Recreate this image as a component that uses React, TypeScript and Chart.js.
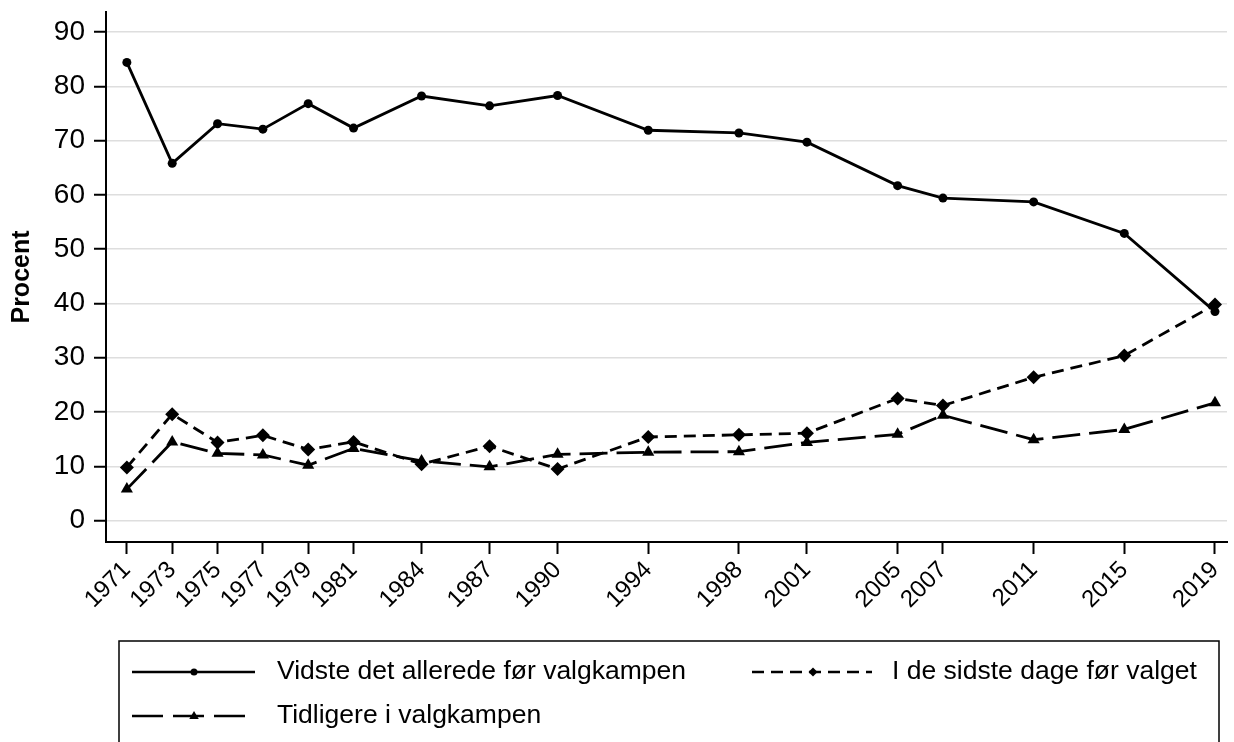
import React, { useEffect, useRef } from "react";
import { Chart, registerables } from "chart.js";

Chart.register(...registerables);

const years = [1971, 1973, 1975, 1977, 1979, 1981, 1984, 1987, 1990, 1994, 1998, 2001, 2005, 2007, 2011, 2015, 2019];
const yTicks = [0, 10, 20, 30, 40, 50, 60, 70, 80, 90];
const vidste = [84.4, 65.8, 73.1, 72.1, 76.8, 72.3, 78.2, 76.4, 78.3, 71.9, 71.4, 69.7, 61.7, 59.4, 58.7, 52.9, 38.5];
const sidsteDage = [9.8, 19.6, 14.4, 15.7, 13.1, 14.5, 10.4, 13.7, 9.5, 15.4, 15.8, 16.1, 22.5, 21.2, 26.4, 30.4, 39.8];
const tidligere = [5.8, 14.5, 12.4, 12.1, 10.2, 13.3, 11.0, 9.9, 12.2, 12.6, 12.7, 14.4, 15.9, 19.4, 14.9, 16.8, 21.7];
const seriesLabels = ["Vidste det allerede før valgkampen", "I de sidste dage før valget", "Tidligere i valgkampen"];
const yTitle = "Procent";

const FONT = "'Liberation Sans', Arial, Helvetica, sans-serif";

function drawMarker(ctx: CanvasRenderingContext2D, style: string, x: number, y: number, r: number) {
  ctx.save();
  ctx.fillStyle = "#000";
  ctx.setLineDash([]);
  ctx.beginPath();
  if (style === "circle") {
    ctx.arc(x, y, r, 0, Math.PI * 2);
  } else if (style === "rectRot") {
    ctx.moveTo(x, y - r);
    ctx.lineTo(x + r, y);
    ctx.lineTo(x, y + r);
    ctx.lineTo(x - r, y);
    ctx.closePath();
  } else {
    ctx.moveTo(x, y - r);
    ctx.lineTo(x + r * 0.95, y + r * 0.6);
    ctx.lineTo(x - r * 0.95, y + r * 0.6);
    ctx.closePath();
  }
  ctx.fill();
  ctx.restore();
}

const legendPlugin = {
  id: "customLegend",
  afterDraw(chart: any) {
    const ctx: CanvasRenderingContext2D = chart.ctx;
    ctx.save();
    ctx.strokeStyle = "#000";
    ctx.lineWidth = 1.5;
    ctx.setLineDash([]);
    ctx.strokeRect(119, 641, 1100, 140);
    const items = [
      { x0: 132, x1: 255, mx: 194, tx: 277, y: 672, dash: [] as number[], style: "circle", r: 3.5, label: seriesLabels[0] },
      { x0: 752, x1: 872, mx: 813, tx: 892, y: 672, dash: [12, 7], style: "rectRot", r: 4.5, label: seriesLabels[1] },
      { x0: 132, x1: 255, mx: 194, tx: 277, y: 716, dash: [31, 10], style: "triangle", r: 5, label: seriesLabels[2] },
    ];
    for (const it of items) {
      ctx.beginPath();
      ctx.setLineDash(it.dash);
      ctx.lineWidth = 2.5;
      ctx.moveTo(it.x0, it.y);
      ctx.lineTo(it.x1, it.y);
      ctx.stroke();
      drawMarker(ctx, it.style, it.mx, it.y, it.r);
      ctx.fillStyle = "#000";
      ctx.font = `26.5px ${FONT}`;
      ctx.textBaseline = "middle";
      ctx.textAlign = "left";
      ctx.fillText(it.label, it.tx, it.y);
    }
    ctx.restore();
  },
};

function zeroPadding(scale: any) {
  scale.paddingTop = 0;
  scale.paddingBottom = 0;
  scale.paddingLeft = 0;
  scale.paddingRight = 0;
}

export default function App() {
  const ref = useRef<HTMLCanvasElement | null>(null);
  useEffect(() => {
    document.body.style.margin = "0";
    const canvas = ref.current;
    if (!canvas) return;
    const chart = new Chart(canvas, {
      type: "line",
      data: {
        datasets: [
          {
            label: seriesLabels[0],
            data: years.map((y, i) => ({ x: y, y: vidste[i] })),
            borderColor: "#000",
            backgroundColor: "#000",
            borderWidth: 2.8,
            pointStyle: "circle",
            pointRadius: 4.5,
            pointBorderWidth: 0,
            fill: false,
          },
          {
            label: seriesLabels[1],
            data: years.map((y, i) => ({ x: y, y: sidsteDage[i] })),
            borderColor: "#000",
            backgroundColor: "#000",
            borderWidth: 2.8,
            borderDash: [12, 7],
            pointStyle: "rectRot",
            pointRadius: 7,
            pointBorderWidth: 0,
            fill: false,
          },
          {
            label: seriesLabels[2],
            data: years.map((y, i) => ({ x: y, y: tidligere[i] })),
            borderColor: "#000",
            backgroundColor: "#000",
            borderWidth: 2.8,
            borderDash: [28, 9],
            pointStyle: "triangle",
            pointRadius: 7,
            pointBorderWidth: 0,
            fill: false,
          },
        ],
      },
      options: {
        animation: false,
        responsive: false,
        devicePixelRatio: 1,
        layout: { padding: { top: 12, right: 0, left: 0, bottom: 0 } },
        plugins: {
          legend: { display: false },
          tooltip: { enabled: false },
        },
        scales: {
          x: {
            type: "linear",
            min: 1970.08,
            max: 2019.53,
            afterBuildTicks: (scale: any) => {
              scale.ticks = years.map((v) => ({ value: v }));
            },
            afterFit: (scale: any) => {
              scale.height = 200;
              zeroPadding(scale);
            },
            ticks: {
              autoSkip: false,
              minRotation: 45,
              maxRotation: 45,
              padding: 2,
              color: "#000",
              font: { family: FONT, size: 24 },
              callback: (v: any) => String(v),
            },
            grid: {
              drawOnChartArea: false,
              drawTicks: true,
              tickLength: 12,
              tickColor: "#000",
              tickWidth: 2,
            },
            border: { color: "#000", width: 2 },
          },
          y: {
            type: "linear",
            min: -3.94,
            max: 93.68,
            afterBuildTicks: (scale: any) => {
              scale.ticks = yTicks.map((v) => ({ value: v }));
            },
            afterFit: (scale: any) => {
              scale.width = 106;
              zeroPadding(scale);
            },
            ticks: {
              padding: 9,
              color: "#000",
              font: { family: FONT, size: 28 },
              callback: (v: any) => String(v),
            },
            grid: {
              color: "#dedede",
              lineWidth: 1.5,
              tickLength: 12,
              tickColor: "#000",
              tickWidth: 2,
            },
            border: { color: "#000", width: 2 },
            title: {
              display: true,
              text: yTitle,
              color: "#000",
              font: { family: FONT, size: 25, weight: "bold", lineHeight: 1.2 },
              padding: { top: 7, bottom: 0 },
            },
          },
        },
      },
      plugins: [legendPlugin],
    } as any);
    return () => chart.destroy();
  }, []);
  return (
    <div style={{ width: 1234, height: 742, position: "relative", background: "#fff" }}>
      <canvas ref={ref} width={1234} height={742} style={{ display: "block" }} />
    </div>
  );
}
